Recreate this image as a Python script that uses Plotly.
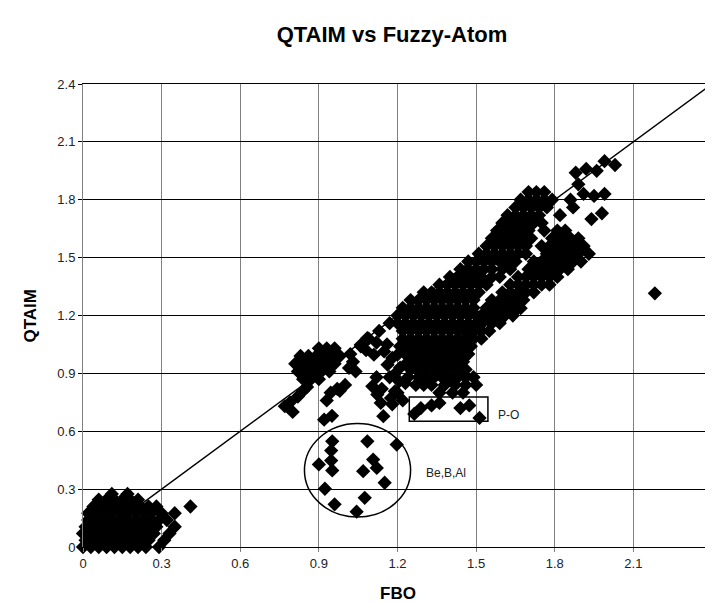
import plotly.graph_objects as go

# ---- data: rows of points, y level -> x positions ----
low_row_y = [0.00, 0.035, 0.07, 0.105, 0.14, 0.175, 0.21, 0.245, 0.275]
low_row_x = [
    [0.00, 0.03, 0.06, 0.09, 0.12, 0.15, 0.18, 0.21, 0.24, 0.29],
    [0.01, 0.04, 0.07, 0.10, 0.13, 0.16, 0.19, 0.22, 0.25, 0.31],
    [0.00, 0.03, 0.06, 0.09, 0.12, 0.15, 0.18, 0.21, 0.24, 0.27, 0.33],
    [0.01, 0.04, 0.07, 0.10, 0.13, 0.16, 0.19, 0.22, 0.25, 0.28, 0.35],
    [0.02, 0.05, 0.08, 0.11, 0.14, 0.17, 0.20, 0.23, 0.26, 0.29, 0.32],
    [0.02, 0.05, 0.08, 0.11, 0.14, 0.17, 0.20, 0.23, 0.26, 0.30, 0.35],
    [0.04, 0.07, 0.10, 0.13, 0.16, 0.19, 0.22, 0.25, 0.28, 0.41],
    [0.06, 0.09, 0.12, 0.15, 0.18, 0.21],
    [0.11, 0.17],
]

near1_row_y = [1.03, 0.99, 0.95, 0.91, 0.87]
near1_row_x = [
    [0.90, 0.93, 0.96],
    [0.83, 0.86, 0.89, 0.92, 0.95, 0.98],
    [0.81, 0.84, 0.87, 0.90, 0.93, 0.96],
    [0.82, 0.85, 0.88, 0.91, 0.94],
    [0.84, 0.87, 0.90],
]

band_row_y = [1.84, 1.80, 1.76, 1.72, 1.68, 1.64, 1.60, 1.56, 1.52, 1.48, 1.44, 1.40,
              1.36, 1.32, 1.28, 1.24, 1.20, 1.16, 1.12, 1.08, 1.04, 1.00, 0.96, 0.92,
              0.88, 0.84, 0.80]
band_row_x = [
    [1.70, 1.73, 1.76],
    [1.67, 1.70, 1.73, 1.76, 1.79],
    [1.65, 1.68, 1.71, 1.74, 1.77],
    [1.62, 1.65, 1.68, 1.71, 1.74, 1.82],
    [1.60, 1.63, 1.66, 1.69, 1.72, 1.75],
    [1.58, 1.61, 1.64, 1.67, 1.70, 1.76, 1.81, 1.84],
    [1.56, 1.59, 1.62, 1.65, 1.68, 1.71, 1.79, 1.82, 1.86, 1.89],
    [1.54, 1.57, 1.60, 1.63, 1.66, 1.69, 1.75, 1.78, 1.81, 1.84, 1.87, 1.91],
    [1.51, 1.54, 1.57, 1.60, 1.63, 1.66, 1.69, 1.77, 1.80, 1.83, 1.86, 1.89, 1.93],
    [1.47, 1.50, 1.53, 1.56, 1.59, 1.62, 1.65, 1.72, 1.75, 1.78, 1.81, 1.84, 1.87, 1.90],
    [1.44, 1.47, 1.50, 1.53, 1.56, 1.60, 1.63, 1.70, 1.73, 1.76, 1.79, 1.82, 1.85],
    [1.40, 1.43, 1.46, 1.49, 1.52, 1.56, 1.59, 1.66, 1.69, 1.72, 1.75, 1.78, 1.81],
    [1.36, 1.39, 1.42, 1.45, 1.48, 1.51, 1.54, 1.63, 1.66, 1.69, 1.72, 1.75, 1.78],
    [1.30, 1.33, 1.36, 1.39, 1.42, 1.45, 1.48, 1.51, 1.60, 1.63, 1.66, 1.69, 1.72],
    [1.25, 1.28, 1.31, 1.34, 1.37, 1.40, 1.43, 1.46, 1.49, 1.56, 1.59, 1.62, 1.65, 1.68],
    [1.22, 1.25, 1.28, 1.31, 1.34, 1.37, 1.40, 1.43, 1.46, 1.49, 1.54, 1.57, 1.60, 1.63, 1.66],
    [1.20, 1.23, 1.26, 1.29, 1.32, 1.35, 1.38, 1.41, 1.44, 1.47, 1.52, 1.55, 1.58, 1.61, 1.64],
    [1.17, 1.20, 1.23, 1.26, 1.29, 1.32, 1.35, 1.38, 1.41, 1.44, 1.47, 1.50, 1.56, 1.59],
    [1.13, 1.22, 1.25, 1.28, 1.31, 1.34, 1.37, 1.40, 1.43, 1.46, 1.49, 1.52, 1.55],
    [1.09, 1.22, 1.25, 1.28, 1.31, 1.34, 1.37, 1.40, 1.43, 1.46, 1.49, 1.52],
    [1.06, 1.21, 1.24, 1.27, 1.30, 1.33, 1.36, 1.39, 1.42, 1.45, 1.48],
    [1.23, 1.26, 1.29, 1.32, 1.35, 1.38, 1.41, 1.44, 1.47],
    [1.24, 1.27, 1.30, 1.33, 1.36, 1.39, 1.42, 1.45],
    [1.25, 1.28, 1.31, 1.34, 1.37, 1.40, 1.43, 1.46],
    [1.24, 1.28, 1.31, 1.34, 1.37, 1.40, 1.43, 1.46, 1.49],
    [1.27, 1.30, 1.33, 1.38, 1.42, 1.46, 1.50],
    [1.36, 1.41, 1.45],
]

# scattered single points
loose_x = [0.77, 0.80, 0.79, 0.82, 0.84, 0.855, 0.92, 0.95, 0.93, 0.945, 0.97, 0.98,
           1.00, 1.015, 1.04, 1.06, 1.085, 1.11, 1.149, 1.162, 1.187, 1.20, 1.206,
           1.104, 1.123, 1.136, 1.146, 1.175, 1.19, 1.02,
           1.03, 1.08, 1.12, 1.16, 1.18, 1.21, 1.17, 1.20, 1.22, 1.12, 1.14, 1.18, 1.23,
           1.544, 1.582, 1.645, 1.683, 1.67, 1.50, 1.53, 1.506, 1.468,
           1.88, 1.92, 1.96, 1.99, 2.03, 1.89, 1.91, 1.95, 1.99, 1.98, 1.94, 1.86, 1.87,
           2.182]
loose_y = [0.73, 0.70, 0.75, 0.78, 0.81, 0.83, 0.66, 0.68, 0.76, 0.80, 0.82, 0.81,
           0.84, 0.928, 0.91, 1.048, 1.083, 0.997, 1.014, 0.945, 0.893, 0.997, 0.859,
           0.833, 0.79, 0.747, 0.678, 0.772, 0.807, 1.00,
           0.96, 1.02, 1.06, 1.05, 0.98, 0.93, 0.88, 0.80, 0.76, 0.88, 0.82, 0.74, 0.85,
           1.238, 1.203, 1.255, 1.324, 1.238, 1.20, 1.17, 1.134, 1.10,
           1.94, 1.96, 1.95, 2.00, 1.98, 1.88, 1.83, 1.82, 1.83, 1.73, 1.70, 1.80, 1.76,
           1.315]

po_x = [1.264, 1.289, 1.33, 1.36, 1.44, 1.474, 1.513]
po_y = [0.69, 0.72, 0.734, 0.747, 0.72, 0.734, 0.669]

bba_x = [0.951, 0.947, 0.947, 0.90, 0.951, 1.085, 1.197, 1.107, 1.121, 1.069, 1.151, 0.923, 1.075, 0.96, 1.044]
bba_y = [0.548, 0.50, 0.448, 0.428, 0.397, 0.548, 0.531, 0.453, 0.41, 0.393, 0.333, 0.302, 0.255, 0.221, 0.183]

fit_x = [0, 2.4]
fit_y = [0, 2.4]

tick_vals = [0, 0.3, 0.6, 0.9, 1.2, 1.5, 1.8, 2.1, 2.4]
tick_text = ["0", "0.3", "0.6", "0.9", "1.2", "1.5", "1.8", "2.1", "2.4"]


def flatten(row_y, row_x):
    xs, ys = [], []
    for yv, xrow in zip(row_y, row_x):
        for xv in xrow:
            xs.append(xv)
            ys.append(yv)
    return xs, ys


lx, ly = flatten(low_row_y, low_row_x)
nx, ny = flatten(near1_row_y, near1_row_x)
bx, by = flatten(band_row_y, band_row_x)

all_x = lx + nx + bx + loose_x + po_x + bba_x
all_y = ly + ny + by + loose_y + po_y + bba_y

FONT = "Arial, Liberation Sans, sans-serif"

fig = go.Figure()
fig.add_trace(go.Scatter(x=fit_x, y=fit_y, mode="lines",
                         line=dict(color="black", width=1.5),
                         hoverinfo="skip", showlegend=False))
fig.add_trace(go.Scatter(x=all_x, y=all_y, mode="markers",
                         marker=dict(symbol="diamond", size=11, color="black",
                                     line=dict(width=0)),
                         cliponaxis=False, showlegend=False))

fig.add_shape(type="circle", xref="x", yref="y", x0=0.845, x1=1.25, y0=0.155, y1=0.64,
              line=dict(color="black", width=1.5))
fig.add_shape(type="rect", xref="x", yref="y", x0=1.245, x1=1.545, y0=0.652, y1=0.778,
              line=dict(color="black", width=1.5))

fig.add_annotation(x=1.577, y=0.685, xref="x", yref="y", text="P-O", showarrow=False,
                   xanchor="left", yanchor="middle", font=dict(family=FONT, size=12, color="#222"))
fig.add_annotation(x=1.302, y=0.384, xref="x", yref="y", text="Be,B,Al", showarrow=False,
                   xanchor="left", yanchor="middle", font=dict(family=FONT, size=12, color="#222"))

fig.add_annotation(x=0.5, y=0, xref="paper", yref="paper", text="<b>FBO</b>", showarrow=False,
                   xanchor="center", yanchor="middle", yshift=-46,
                   font=dict(family=FONT, size=17, color="black"))
fig.add_annotation(x=0, y=0.5, xref="paper", yref="paper", text="<b>QTAIM</b>", showarrow=False,
                   xanchor="center", yanchor="middle", xshift=-53, textangle=-90,
                   font=dict(family=FONT, size=17, color="black"))

fig.update_layout(
    width=713, height=603,
    margin=dict(l=75, r=9, t=76, b=64),
    paper_bgcolor="white", plot_bgcolor="white",
    title=dict(text="<b>QTAIM vs Fuzzy-Atom</b>", x=384 / 713, xanchor="center",
               y=1 - 26 / 603, yref="container", yanchor="middle",
               font=dict(family=FONT, size=22, color="black")),
    font=dict(family=FONT, size=13, color="#222"),
    showlegend=False,
)
fig.update_xaxes(range=[0, 2.4], tickvals=tick_vals, ticktext=tick_text,
                 showgrid=True, gridcolor="#808080", gridwidth=1,
                 showline=True, linecolor="black", linewidth=1, mirror=True,
                 ticks="outside", ticklen=4, tickcolor="#808080",
                 zeroline=False, tickfont=dict(family=FONT, size=13, color="#222"))
fig.update_yaxes(range=[0, 2.4], tickvals=tick_vals, ticktext=tick_text,
                 showgrid=True, gridcolor="black", gridwidth=1,
                 showline=True, linecolor="#808080", linewidth=1, mirror=True,
                 ticks="outside", ticklen=4, tickcolor="black",
                 zeroline=False, tickfont=dict(family=FONT, size=13, color="#222"))

fig.write_html("out.html")
